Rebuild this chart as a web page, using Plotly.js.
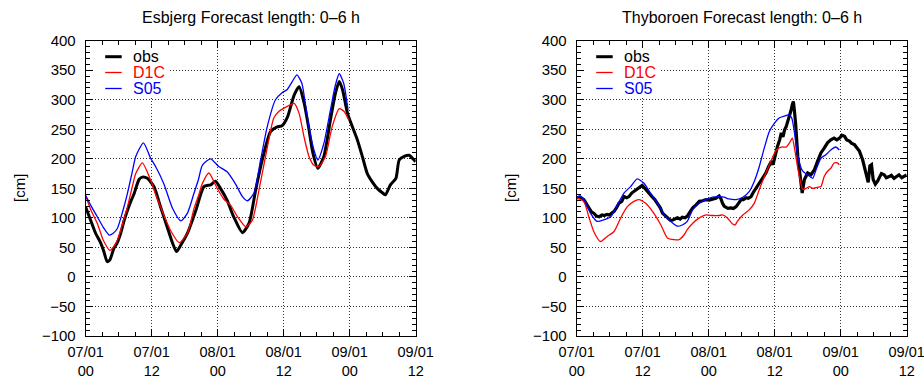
<!DOCTYPE html>
<html><head><meta charset="utf-8">
<script src="https://cdn.plot.ly/plotly-3.0.1.min.js"></script>
<style>html,body{margin:0;padding:0;background:#fff}</style>
</head><body><div id="chart" style="width:924px;height:383px"></div>
<script>
// ---- data (hours after 07/01 00, water level in cm) ----
const tickHours = [0, 12, 24, 36, 48, 60];
const tickLabels = ['07/01<br>00', '07/01<br>12', '08/01<br>00', '08/01<br>12', '09/01<br>00', '09/01<br>12'];
const seriesNames = ['obs', 'D1C', 'S05'];
const plotTitles = ['Esbjerg Forecast length: 0\u20136 h', 'Thyboroen Forecast length: 0\u20136 h'];

const esbObsHours = [0,0.9,1.8,2.7,3.3,3.9,4.4,5.1,5.75,6.4,7,7.6,8.2,8.8,9.7,10.3,11.2,12.4,13.6,14.8,15.8,16.5,17.3,18.5,20,21.5,22.7,23.6,24.5,25.7,26.9,28.5,29.7,30.9,32.1,33.6,34.8,35.7,36.7,37.9,38.8,39.7,40.5,41.3,42.2,43.3,44.5,45.4,46.1,46.7,47.6,48.5,49.4,50.3,51.2,52.1,53,54,54.5,55.4,56.4,57,57.9,58.8,59.4,60];
const esbObs = [118,96,74,58,43,26,29,48,58,75,96,113,128,141,165,169,167,153,119,85,57,43,54,74,112,153,156,162,150,130,102,75,91,147,198,246,254,256,271,308,322,295,255,210,184,204,266,311,331,317,277,254,232,204,175,161,150,142,139,156,167,198,204,206,201,195];

const esbD1CHours = [0,1,2.1,3.2,4.4,5,5.75,6.7,7.6,8.4,9.1,10.3,11.8,12.7,13.6,14.5,15.4,17,18.5,19.7,20.6,21.2,22.4,23.9,25.1,26.3,27.6,29.1,30.3,31.5,32.7,34.2,35.2,36.1,37.9,38.8,39.7,40.6,41.5,42.4,43.6,44.8,46.1,47,47.8];
const esbD1C = [137,112,91,62,45,50,62,90,119,150,175,193,164,140,119,98,79,58,74,116,140,158,176,150,132,122,102,85,96,147,204,269,281,286,294,277,237,204,189,187,204,254,285,280,266];

const esbS05Hours = [0,1,2.1,3.2,4.3,5,5.75,6.7,7.6,8.4,9.1,10.5,11.8,12.7,14.2,15.8,17.3,18.5,19.7,20.5,21.2,22.7,24.2,25.7,27.2,28.5,29.4,30.6,31.8,33,34.5,35.7,36.6,37.5,38.4,39.3,39.7,40.6,41.5,42.2,43.3,44.5,45.4,46.1,46.9,47.7];
const esbS05 = [138,120,102,84,71,74,82,110,142,175,204,227,201,187,158,116,95,108,142,165,189,200,187,178,158,136,129,142,198,254,300,312,317,330,342,328,308,254,215,198,226,283,325,344,328,283];

const thyObsHours = [0,0.6,1.3,1.8,2.2,2.7,3.1,3.6,4.1,4.6,5,5.5,5.9,6.4,6.8,7.3,7.7,8.2,8.6,9.1,9.5,10,10.4,10.9,11.3,11.9,12.4,12.8,13.2,13.7,14.2,14.7,15.2,15.6,16.1,16.5,17,17.4,17.9,18.3,18.8,19.2,19.7,20.1,20.6,21.1,21.7,22.3,22.9,23.5,24.1,24.7,25.3,25.9,26.2,26.5,26.8,27.1,27.5,28,28.5,29,29.4,29.9,30.3,30.8,31.2,31.7,32.1,32.6,33,33.5,33.9,34.4,34.9,35.4,35.7,36,36.5,36.9,37.2,37.5,37.8,38.1,38.4,38.7,39,39.2,39.4,39.6,39.8,40.2,40.6,41,41.4,42,42.6,43.2,43.8,44.4,45,45.6,46.2,46.8,47.3,47.8,48.2,48.7,49.1,49.6,50,50.5,51,51.4,52,52.3,52.6,53,53.3,53.6,53.9,54.3,54.7,55,55.4,55.9,56.3,56.8,57.2,57.7,58.1,58.6,59.1,59.6,60];
const thyObs = [134,135,131,124,117,110,108,103,102,105,104,106,105,108,111,118,125,128,136,134,136,142,145,148,151,155,150,145,141,136,131,125,117,108,104,100,96,96,99,100,98,101,100,103,110,117,122,128,129,131,130,132,133,137,133,125,120,118,116,117,116,119,124,131,131,134,133,136,143,150,155,162,167,176,187,196,190,204,221,232,244,237,249,255,263,272,283,292,297,280,260,204,170,142,165,176,173,181,196,210,218,227,232,235,232,235,240,238,232,230,226,224,218,213,198,185,176,160,188,190,165,157,162,167,175,173,168,170,172,167,170,173,168,170,173];

const thyD1CHours = [0,1.3,2.2,3.1,4.3,5.6,6.8,8,9.2,10.4,11.3,12.5,14,15.3,16.5,17.7,18.6,19.5,20.1,21.1,22.3,23.5,24.7,25.9,26.5,27.4,28.3,28.8,29.2,30.2,31.4,32.3,33.2,34.4,35.4,36.3,37.2,38.1,38.7,39.2,39.6,40.2,40.5,41.1,41.7,42.3,42.9,43.8,44.4,45,45.6,46.2,46.8,47.4,47.75];
const thyD1C = [134,128,102,77,60,69,77,100,119,128,131,125,108,88,66,63,63,71,80,91,100,105,104,104,105,100,90,88,94,105,114,125,148,176,198,215,220,220,227,235,218,184,170,148,150,153,150,152,153,170,179,184,193,193,190];

const thyS05Hours = [0,0.7,1.5,2.5,3.7,5,6.2,7.4,8.6,9.8,11,12.2,13.4,14.7,15.9,17.1,18.3,19.2,20.1,21.1,22.3,23.5,24.7,25.9,26.8,27.7,29,30.2,31.4,32.3,33.2,34.1,35,36,36.8,38,38.6,39.1,39.6,39.9,40.3,41.1,42,42.9,43.5,44.4,45.3,46.2,47.1,47.75];
const thyS05 = [135,137,128,108,94,97,102,122,142,153,166,159,142,125,105,94,86,88,94,114,125,131,135,136,135,132,131,135,145,162,187,218,246,261,269,273,275,269,244,222,200,179,173,167,181,201,207,215,220,215];

// ---- styling ----
const FONT = 'Liberation Sans, Arial, Helvetica, sans-serif';
const colors = ['#000000', '#ff0000', '#0000ff'];
const W = 924, H = 383;
const plotLeft = [85.7, 576.7], plotW = 330, plotTop = 40.7, plotBottom = 336;

function tr(x, y, idx, axis, width, shape) {
  return {x: x, y: y, xaxis: 'x' + axis, yaxis: 'y' + axis, type: 'scatter', mode: 'lines',
    name: seriesNames[idx], showlegend: false, hoverinfo: 'skip',
    line: {color: colors[idx], width: width, shape: shape, smoothing: 0.6}};
}

const data = [
  tr(esbObsHours, esbObs, 0, '', 3, 'spline'),
  tr(esbD1CHours, esbD1C, 1, '', 1.3, 'spline'),
  tr(esbS05Hours, esbS05, 2, '', 1.3, 'spline'),
  tr(thyObsHours, thyObs, 0, '2', 3.2, 'linear'),
  tr(thyD1CHours, thyD1C, 1, '2', 1.3, 'spline'),
  tr(thyS05Hours, thyS05, 2, '2', 1.3, 'spline')
];

function xAxis(i) {
  return {
    domain: [plotLeft[i] / W, (plotLeft[i] + plotW) / W], anchor: i ? 'y2' : 'y',
    range: [0, 60], tickmode: 'array', tickvals: tickHours, ticktext: tickLabels,
    ticks: 'inside', ticklen: 7, tickwidth: 1, tickcolor: '#000',
    showline: true, linecolor: '#000', linewidth: 1, mirror: 'ticks',
    showgrid: true, gridcolor: '#333', griddash: '1px,2px', gridwidth: 1, zeroline: false,
    tickfont: {family: FONT, size: 14.5, color: '#000'}, ticklabelstandoff: 3,
    ticklabeloverflow: 'allow',
    minor: {tickmode: 'linear', tick0: 0, dtick: 3, ticks: 'inside', ticklen: 4, tickcolor: '#000', showgrid: false},
    fixedrange: true
  };
}
function yAxis(i) {
  return {
    domain: [(H - plotBottom) / H, (H - plotTop) / H], anchor: i ? 'x2' : 'x',
    range: [-100, 400], tickmode: 'linear', tick0: 0, dtick: 50,
    ticks: 'inside', ticklen: 7, tickwidth: 1, tickcolor: '#000',
    showline: true, linecolor: '#000', linewidth: 1, mirror: 'ticks',
    showgrid: true, gridcolor: '#333', griddash: '1px,2px', gridwidth: 1, zeroline: false,
    tickfont: {family: FONT, size: 15, color: '#000'}, ticklabelstandoff: 6,
    minor: {tickmode: 'linear', tick0: 0, dtick: 10, ticks: 'inside', ticklen: 4, tickcolor: '#000', showgrid: false},
    fixedrange: true
  };
}

const annotations = [];
const shapes = [];
[0, 1].forEach(function (i) {
  // opaque key box (hides grid dots behind the key, as in the original); no data reach this corner
  shapes.push({type: 'rect', xref: 'paper', yref: 'paper', layer: 'above',
    x0: (plotLeft[i] + 7.5) / W, x1: (plotLeft[i] + 84) / W,
    y0: (H - (plotTop + 57)) / H, y1: (H - (plotTop + 7.5)) / H,
    fillcolor: '#ffffff', line: {width: 0}});
  annotations.push({text: plotTitles[i], xref: 'paper', yref: 'paper',
    x: (plotLeft[i] + plotW / 2) / W, y: (H - 17) / H, xanchor: 'center', yanchor: 'middle',
    showarrow: false, font: {family: FONT, size: 16, color: '#000'}});
  annotations.push({text: '[cm]', xref: 'paper', yref: 'paper', textangle: -90,
    x: (plotLeft[i] - 66) / W, y: (H - 188.3) / H, xanchor: 'center', yanchor: 'middle',
    showarrow: false, font: {family: FONT, size: 15, color: '#000'}});
  const legY = [56.7, 72.5, 88.5];
  seriesNames.forEach(function (nm, k) {
    shapes.push({type: 'line', xref: 'paper', yref: 'paper', layer: 'above',
      x0: (plotLeft[i] + 19.5) / W, x1: (plotLeft[i] + 36) / W,
      y0: (H - legY[k]) / H, y1: (H - legY[k]) / H,
      line: {color: colors[k], width: k === 0 ? 3 : 1.3}});
    annotations.push({text: nm, xref: 'paper', yref: 'paper',
      x: (plotLeft[i] + 45) / W, y: (H - legY[k]) / H, xanchor: 'left', yanchor: 'middle',
      showarrow: false, font: {family: FONT, size: 16, color: colors[k]}});
  });
});

const layout = {
  width: W, height: H, margin: {l: 0, r: 0, t: 0, b: 0},
  paper_bgcolor: '#fff', plot_bgcolor: '#fff', showlegend: false,
  font: {family: FONT, color: '#000'},
  xaxis: xAxis(0), yaxis: yAxis(0), xaxis2: xAxis(1), yaxis2: yAxis(1),
  annotations: annotations, shapes: shapes
};

Plotly.newPlot('chart', data, layout, {displayModeBar: false, staticPlot: true});
</script></body></html>
